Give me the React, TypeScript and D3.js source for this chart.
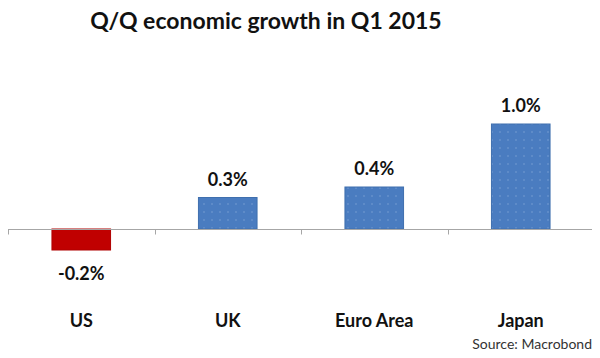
import React, { useRef, useEffect } from 'react';
import * as d3 from 'd3';

const countries = ['US', 'UK', 'Euro Area', 'Japan'];
const growth = [-0.2, 0.3, 0.4, 1.0];
const titleText = 'Q/Q economic growth in Q1 2015';
const sourceText = 'Source: Macrobond';

const App = () => {
  const canvas = useRef<HTMLDivElement>(null);

  const drawChart = () => {
    const width = 600;
    const height = 358;
    const font = 'Lato, "Open Sans", sans-serif';

    d3.select(canvas.current).selectAll('*').remove();
    const svg = d3.select(canvas.current).append('svg')
      .attr('width', width)
      .attr('height', height)
      .style('display', 'block');

    svg.append('rect').attr('width', width).attr('height', height).attr('fill', '#fff');

    // dotted fill like the original bars
    const defs = svg.append('defs');
    const pat = defs.append('pattern')
      .attr('id', 'dots')
      .attr('width', 8)
      .attr('height', 8)
      .attr('patternUnits', 'userSpaceOnUse');
    pat.append('rect').attr('width', 8).attr('height', 8).attr('fill', '#4a7cc0');
    pat.append('circle').attr('cx', 4).attr('cy', 4).attr('r', 0.8).attr('fill', '#789fd3');

    const x = d3.scaleBand()
      .domain(countries)
      .range([8, 594])
      .paddingInner(0.6)
      .paddingOuter(0.3);

    const y = d3.scaleLinear()
      .domain([-0.2, 1.0])
      .range([250, 124]);

    svg.append('text')
      .attr('x', 266)
      .attr('y', 29)
      .attr('text-anchor', 'middle')
      .attr('font-family', font)
      .attr('font-weight', 'bold')
      .attr('font-size', 23)
      .attr('fill', '#111')
      .text(titleText);

    svg.selectAll('.bar')
      .data(growth)
      .enter().append('rect')
      .attr('class', 'bar')
      .attr('x', (d, i) => x(countries[i]))
      .attr('width', x.bandwidth())
      .attr('y', d => y(Math.max(0, d)))
      .attr('height', d => Math.abs(y(d) - y(0)))
      .attr('fill', d => d < 0 ? '#c00000' : 'url(#dots)')
      .attr('stroke', d => d < 0 ? '#b00000' : '#3f6fae')
      .attr('stroke-width', 1);

    // category axis line with tick marks between the groups
    const y0 = Math.round(y(0)) + 0.5;
    const ax = svg.append('g').attr('stroke', '#a6a6a6');
    ax.append('line').attr('x1', 8).attr('x2', 594).attr('y1', y0).attr('y2', y0);
    const edges = countries.map(c => x(c) - x.step() * x.paddingInner() / 2);
    edges[0] = 8;
    edges.push(594);
    ax.selectAll('.tick')
      .data(edges)
      .enter().append('line')
      .attr('x1', d => Math.round(d) + 0.5)
      .attr('x2', d => Math.round(d) + 0.5)
      .attr('y1', y0)
      .attr('y2', y0 + 5);

    svg.selectAll('.val')
      .data(growth)
      .enter().append('text')
      .attr('x', (d, i) => x(countries[i]) + x.bandwidth() / 2)
      .attr('y', d => d < 0 ? y(d) + 30 : y(d) - 12)
      .attr('text-anchor', 'middle')
      .attr('font-family', font)
      .attr('font-weight', 'bold')
      .attr('font-size', 18)
      .attr('fill', '#111')
      .text(d => d.toFixed(1) + '%');

    svg.selectAll('.cat')
      .data(countries)
      .enter().append('text')
      .attr('x', d => x(d) + x.bandwidth() / 2)
      .attr('y', 327)
      .attr('text-anchor', 'middle')
      .attr('font-family', font)
      .attr('font-weight', 'bold')
      .attr('font-size', 18)
      .attr('fill', '#111')
      .text(d => d);

    svg.append('text')
      .attr('x', 592)
      .attr('y', 349)
      .attr('text-anchor', 'end')
      .attr('font-family', font)
      .attr('font-size', 14)
      .attr('fill', '#333')
      .text(sourceText);
  };

  useEffect(() => {
    drawChart();
  });

  return <div ref={canvas} style={{ margin: -8 }}></div>;
};

export default App;
